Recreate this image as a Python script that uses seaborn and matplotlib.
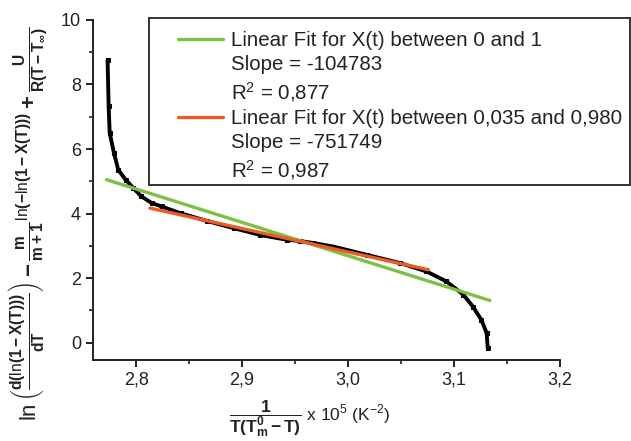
import matplotlib
matplotlib.use("Agg")
import matplotlib.pyplot as plt
from matplotlib.lines import Line2D
from matplotlib.patches import Rectangle
from matplotlib.ticker import MultipleLocator
import pandas as pd
import seaborn as sns

# data
x_data = [2.773, 2.774, 2.775, 2.779, 2.783, 2.790, 2.797, 2.805, 2.815, 2.824,
          2.842, 2.867, 2.892, 2.917, 2.942, 2.955, 2.967, 2.986, 3.018, 3.049,
          3.074, 3.093, 3.109, 3.118, 3.126, 3.131, 3.132]
y_data = [8.76, 7.32, 6.50, 5.88, 5.36, 5.05, 4.80, 4.53, 4.32, 4.22,
          4.01, 3.77, 3.55, 3.34, 3.19, 3.15, 3.09, 2.98, 2.72, 2.47,
          2.21, 1.90, 1.49, 1.12, 0.71, 0.30, -0.16]

# linear fits (end points)
green_x = [2.772, 3.134]
green_y = [5.05, 1.31]
red_x = [2.813, 3.076]
red_y = [4.17, 2.26]

xticks = [2.8, 2.9, 3.0, 3.1, 3.2]
xtick_labels = ["2,8", "2,9", "3,0", "3,1", "3,2"]
yticks = [0, 2, 4, 6, 8, 10]

legend_labels = ["Linear Fit for X(t) between 0 and 1",
                 "Slope = -104783",
                 "R$^2$ = 0,877",
                 "Linear Fit for X(t) between 0,035 and 0,980",
                 "Slope = -751749",
                 "R$^2$ = 0,987"]

sns.set_style("ticks")
plt.rcParams["font.family"] = ["Liberation Sans", "DejaVu Sans"]
plt.rcParams["mathtext.fontset"] = "custom"
plt.rcParams["mathtext.rm"] = "Liberation Sans"
plt.rcParams["mathtext.it"] = "Liberation Sans"
plt.rcParams["mathtext.bf"] = "Liberation Sans:bold"

df = pd.DataFrame({"x": x_data, "y": y_data})

fig = plt.figure(figsize=(6.31, 4.41), dpi=100)
ax = fig.add_axes([0.147, 0.184, 0.740, 0.771])

sns.lineplot(data=df, x="x", y="y", sort=False, estimator=None, color="black",
             linewidth=2.8, marker="s", markersize=2.5, markeredgecolor="black", ax=ax)
sns.lineplot(x=green_x, y=green_y, color="#7cc142", linewidth=2.4, ax=ax)
sns.lineplot(x=red_x, y=red_y, color="#ee5a24", linewidth=2.4, ax=ax)

ax.set_xlim(2.759, 3.2)
ax.set_ylim(-0.53, 10)
ax.set_xticks(xticks)
ax.set_xticklabels(xtick_labels)
ax.set_yticks(yticks)
ax.xaxis.set_minor_locator(MultipleLocator(0.05))
ax.yaxis.set_minor_locator(MultipleLocator(1))
ax.tick_params(which="major", direction="out", length=5, width=1.4, labelsize=13, colors="#222222")
ax.tick_params(which="minor", direction="out", length=3, width=1.2)
sns.despine(ax=ax)
for s in ["left", "bottom"]:
    ax.spines[s].set_linewidth(1.4)
    ax.spines[s].set_color("#222222")

ax.set_ylabel(r"$\mathbf{\ln\left(\frac{d(\ln(1-X(T)))}{dT}\right)-\frac{m}{m+1}^{\ln(-\ln(1-X(T)))}+\frac{U}{R(T-T_\infty)}}$",
              fontsize=16, color="#222222")
ax.yaxis.set_label_coords(-0.094, 0.40)
ax.set_xlabel(r"$\mathbf{\dfrac{1}{T(T_m^0-T)}}$ x 10$^5$ (K$^{-2}$)", fontsize=12.5, color="#222222")
ax.xaxis.set_label_coords(0.465, -0.113)

# legend box drawn separately so its frame matches the reference extent
fig.patches.append(Rectangle((149 / 631, 1 - 185 / 441), 481 / 631, 167 / 441,
                             transform=fig.transFigure, fill=False,
                             edgecolor="#333333", linewidth=1.4, zorder=5))

handles = [Line2D([], [], color="#7cc142", linewidth=2.4),
           Line2D([], [], color="none"),
           Line2D([], [], color="none"),
           Line2D([], [], color="#ee5a24", linewidth=2.4),
           Line2D([], [], color="none"),
           Line2D([], [], color="none")]
leg = ax.legend(handles, legend_labels, loc="upper left",
                bbox_to_anchor=(178 / 631, 1 - 31 / 441), bbox_transform=fig.transFigure,
                borderaxespad=0, borderpad=0, frameon=False,
                fontsize=14.8, labelspacing=0.26, handlelength=2.2, handletextpad=0.4)
for t in leg.get_texts():
    t.set_color("#222222")

fig.savefig("out.png", dpi=100)
